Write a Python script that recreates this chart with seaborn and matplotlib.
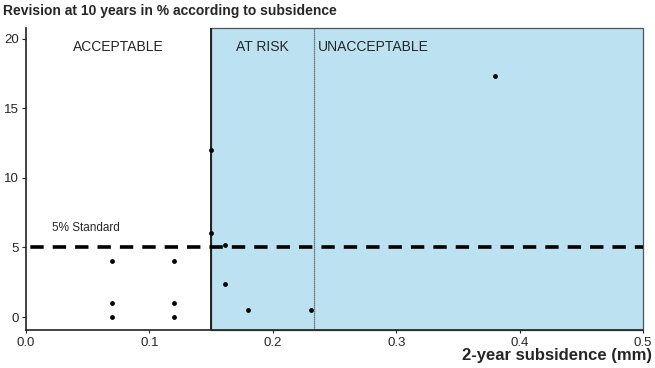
import matplotlib
matplotlib.use("Agg")
import matplotlib.pyplot as plt
import seaborn as sns
import pandas as pd
from matplotlib.patches import Rectangle

subsidence = [0.07, 0.07, 0.07, 0.12, 0.12, 0.12, 0.15, 0.15, 0.161, 0.161, 0.18, 0.231, 0.38]
revision = [4.0, 1.0, 0.0, 4.0, 1.0, 0.0, 12.0, 6.0, 5.2, 2.4, 0.5, 0.5, 17.3]
zone_bounds = [0.0, 0.15, 0.233, 0.5]
zone_labels = ["ACCEPTABLE", "AT RISK", "UNACCEPTABLE"]
standard = 5
x_ticks = [0.0, 0.1, 0.2, 0.3, 0.4, 0.5]
y_ticks = [0, 5, 10, 15, 20]

df = pd.DataFrame({"subsidence": subsidence, "revision": revision})

sns.set_style("white")
plt.rcParams['font.family'] = ['Liberation Sans', 'DejaVu Sans']

fig = plt.figure(figsize=(6.55, 3.68), dpi=100)
ax = fig.add_axes([0.0397, 0.1033, 0.9420, 0.8207])
ymin, ymax = -0.93, 20.76
ax.set_xlim(0, 0.5)
ax.set_ylim(ymin, ymax)

blue = "#bce2f1"
ax.add_patch(Rectangle((zone_bounds[1], ymin), zone_bounds[3] - zone_bounds[1], ymax - ymin,
                       facecolor=blue, edgecolor="#4a5560", linewidth=0.9, zorder=0, clip_on=False))
ax.axvline(zone_bounds[1], color="#222222", lw=1.4, zorder=1)
ax.axvline(zone_bounds[2], color="#555555", lw=0.9, ls=(0, (1, 0.6)), zorder=1)

ax.axhline(standard, color="black", lw=2.6, ls=(5, (3.7, 2.5)), zorder=2)
ax.text(0.021, standard + 1.4, "5% Standard", fontsize=8.5, ha="left", va="center")

centers = [(zone_bounds[0] + zone_bounds[1]) / 2, (zone_bounds[1] + zone_bounds[2]) / 2]
ax.text(centers[0], 19.4, zone_labels[0], fontsize=10, ha="center", va="center")
ax.text(centers[1], 19.4, zone_labels[1], fontsize=10, ha="center", va="center")
ax.text(0.2365, 19.4, zone_labels[2], fontsize=10, ha="left", va="center")

sns.scatterplot(data=df, x="subsidence", y="revision", color="black", s=12,
                edgecolor="black", linewidth=0, ax=ax, zorder=3)

ax.set_xticks(x_ticks)
ax.set_xticklabels([f"{v:.1f}" for v in x_ticks], fontsize=9.5)
ax.set_yticks(y_ticks)
ax.set_yticklabels([str(v) for v in y_ticks], fontsize=9.5)
ax.tick_params(axis="y", left=True, length=3, width=0.8, pad=2)
ax.tick_params(axis="x", bottom=True, length=2, width=0.8, pad=3)
ax.set_xlabel("")
ax.set_ylabel("")

for s in ["top", "right"]:
    ax.spines[s].set_visible(False)
for s in ["left", "bottom"]:
    ax.spines[s].set_color("#222222")
    ax.spines[s].set_linewidth(1.2)

fig.text(0.005, 0.970, "Revision at 10 years in % according to subsidence",
         fontsize=10, fontweight="bold", ha="left", va="center")
fig.text(0.996, 0.035, "2-year subsidence (mm)", fontsize=12, fontweight="bold",
         ha="right", va="center")

fig.savefig("out.png", dpi=100)
